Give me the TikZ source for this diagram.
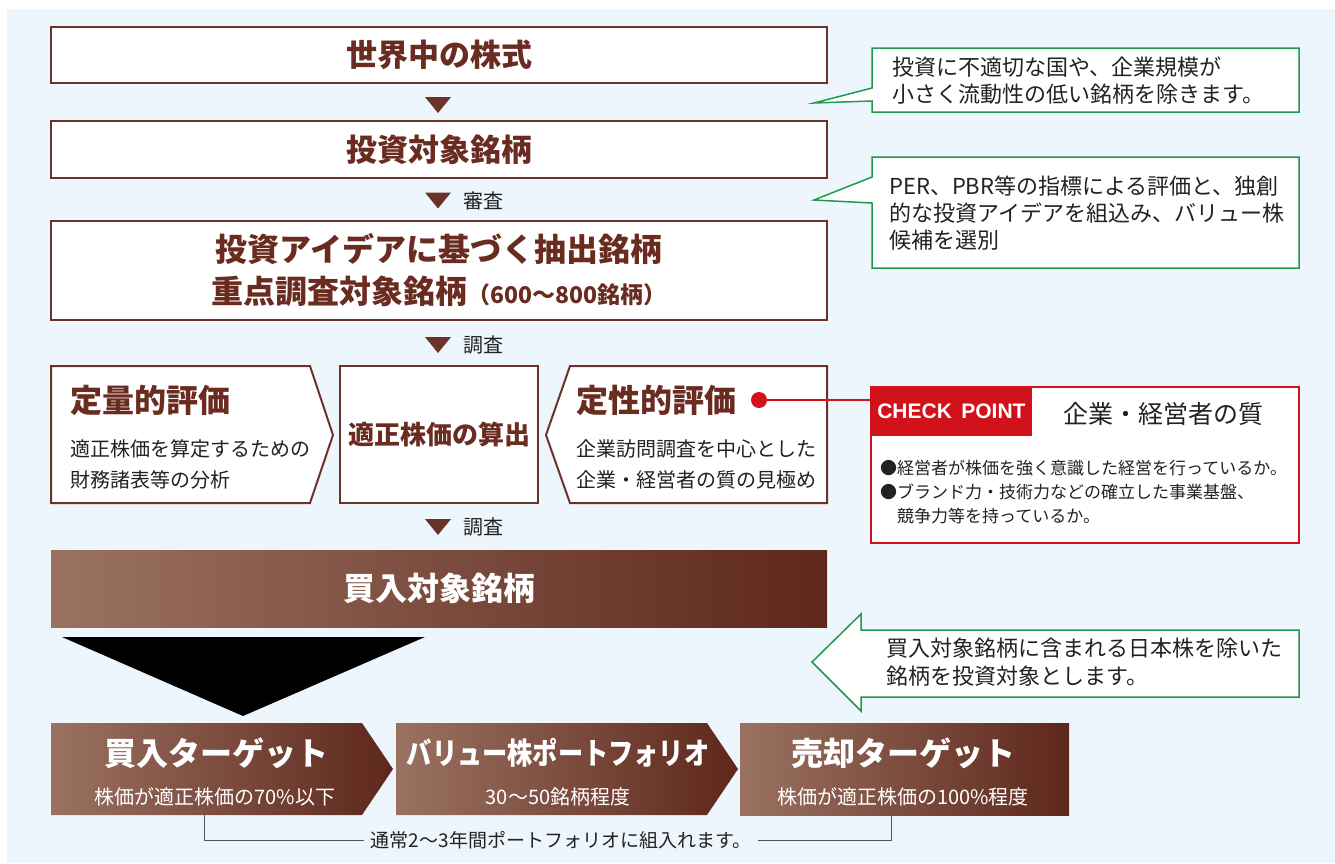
\documentclass[tikz,border=0pt]{standalone}
\usepackage{fontspec}
\setmainfont{Noto Sans CJK JP}
\newfontfamily\checkfont{Liberation Sans}
\usetikzlibrary{positioning}
\definecolor{bgblue}{HTML}{EEF6FD}
\definecolor{framebrown}{HTML}{6B3328}
\definecolor{titlebrown}{HTML}{6A2C20}
\definecolor{gradleft}{HTML}{9A7262}
\definecolor{gradright}{HTML}{5E271B}
\definecolor{calloutgreen}{HTML}{1F9A4A}
\definecolor{checkred}{HTML}{D1121B}
\definecolor{notegray}{HTML}{555555}
\definecolor{bodytext}{HTML}{222222}
\newcommand{\jpsize}[1]{\fontsize{#1}{#1}\selectfont}
\newcommand{\downmark}[2]{\fill[framebrown] (#1-13,#2-8) -- (#1+13,#2-8) -- (#1,#2+8) -- cycle;}

\begin{document}
\begin{tikzpicture}[x=1pt,y=-1pt,
  stagebox/.style={draw=framebrown, line width=2pt, fill=white, text=titlebrown, font=\bfseries\jpsize{31}, inner sep=0pt},
  evalbox/.style={draw=framebrown, line width=2pt, fill=white},
  evaltitle/.style={text=titlebrown, font=\bfseries\jpsize{32}, anchor=west, inner sep=0pt},
  evaltext/.style={text=bodytext, font=\fontsize{20}{31}\selectfont, anchor=west, inner sep=0pt, align=left},
  steplabel/.style={text=bodytext, font=\jpsize{20}, anchor=west, inner sep=0pt},
  shadebox/.style={left color=gradleft, right color=gradright, draw=none},
  whitetitle/.style={text=white, font=\bfseries\jpsize{32}, inner sep=0pt},
  whitetext/.style={text=white, font=\jpsize{20}, inner sep=0pt},
  callout/.style={draw=calloutgreen, line width=1.5pt, fill=white},
  callouttext/.style={text=bodytext, font=\fontsize{22}{27}\selectfont, anchor=west, inner sep=0pt, align=left}]
\useasboundingbox (0,0) rectangle (1335,863);
\fill[bgblue] (7,9) rectangle (1335,863);

\node[stagebox, minimum width=776pt, minimum height=56pt] (world) at (439,55) {世界中の株式};
\downmark{438}{105}
\node[stagebox, minimum width=776pt, minimum height=57pt] (universe) at (439,149.5) {投資対象銘柄};
\downmark{438}{200.5}
\node[steplabel] (screen) at (463,201) {審査};
\node[stagebox, minimum width=776pt, minimum height=99pt, align=center, font=\bfseries\fontsize{32}{42}\selectfont] (focus) at (439,270.5)
  {投資アイデアに基づく抽出銘柄\\重点調査対象銘柄{\jpsize{23}（600～800銘柄）}};
\downmark{438}{345}
\node[steplabel] (research) at (463,345) {調査};

\draw[evalbox] (51,366) -- (310,366) -- (333,435) -- (310,503) -- (51,503) -- cycle;
\node[evalbox, minimum width=198pt, minimum height=137pt, inner sep=0pt, text=titlebrown, font=\bfseries\jpsize{26}] (fair) at (439,434.5) {適正株価の算出};
\draw[evalbox] (570,366) -- (827,366) -- (827,503) -- (570,503) -- (546,435) -- cycle;
\node[evaltitle] (quant) at (70,400) {定量的評価};
\node[evaltext] (quanttext) at (70,464.5) {適正株価を算定するための\\財務諸表等の分析};
\node[evaltitle] (qual) at (576,400) {定性的評価};
\node[evaltext] (qualtext) at (576,464.5) {企業訪問調査を中心とした\\企業・経営者の質の見極め};
\downmark{438}{527}
\node[steplabel] (research2) at (463,527) {調査};

\node[shadebox, minimum width=776pt, minimum height=77pt, inner sep=0pt, text=white, font=\bfseries\jpsize{32}] (buylist) at (439,588.5) {買入対象銘柄};
\fill[black] (62,637) -- (425,637) -- (243,716) -- cycle;

\shade[shadebox] (51,723) -- (362,723) -- (393,769) -- (362,815) -- (51,815) -- cycle;
\shade[shadebox] (396,723) -- (707,723) -- (738,769) -- (707,815) -- (396,815) -- cycle;
\shade[shadebox] (740,723) rectangle (1069,815);
\node[whitetitle] (buytitle) at (216,753) {買入ターゲット};
\node[whitetext] (buytext) at (215,797) {株価が適正株価の70\%以下};
\node[whitetitle, font=\bfseries\jpsize{30}] (pftitle) at (558,753) {\scalebox{0.84}[1]{バリュー株ポートフォリオ}};
\node[whitetext] (pftext) at (558,797) {30～50銘柄程度};
\node[whitetitle] (selltitle) at (903,753) {売却ターゲット};
\node[whitetext] (selltext) at (903,797) {株価が適正株価の100\%程度};

\node[text=bodytext, font=\jpsize{19}, inner sep=7pt] (note) at (561,840) {通常2～3年間ポートフォリオに組入れます。};
\coordinate (buyfoot) at (204,815);
\coordinate (sellfoot) at (891,815);
\draw[notegray, line width=1pt] (buyfoot) |- (note.west);
\draw[notegray, line width=1pt] (note.east) -| (sellfoot);

\draw[callout] (872,48) -- (1299,48) -- (1299,112) -- (872,112) -- (872,101) -- (814,103) -- (872,88) -- cycle;
\node[callouttext] (exclude) at (892,80.5) {投資に不適切な国や、企業規模が\\小さく流動性の低い銘柄を除きます。};
\draw[callout] (872,157) -- (1299,157) -- (1299,268) -- (872,268) -- (872,203) -- (814,200) -- (872,177) -- cycle;
\node[callouttext] (select) at (889,213) {PER、PBR等の指標による評価と、独創\\的な投資アイデアを組込み、バリュー株\\候補を選別};

\node[circle, fill=checkred, minimum size=16pt, inner sep=0pt] (dot) at (759,400) {};
\node[draw=checkred, line width=1.5pt, fill=white, minimum width=428pt, minimum height=156pt, inner sep=0pt] (check) at (1085,465) {};
\draw[checkred, line width=1.5pt] (dot) -- (dot -| check.west);
\node[fill=checkred, text=white, font=\checkfont\bfseries\jpsize{21}, minimum width=162pt, minimum height=50pt, anchor=north west, inner sep=0pt] (checklabel) at (check.north west) {CHECK\hspace{0.45em}POINT};
\node[text=bodytext, font=\jpsize{25}, inner sep=0pt] (checktitle) at (1163,414) {企業・経営者の質};
\node[text=bodytext, font=\fontsize{17}{24}\selectfont, align=left, anchor=west, inner sep=0pt] (checktext) at (880,492)
  {●経営者が株価を強く意識した経営を行っているか。\\●ブランド力・技術力などの確立した事業基盤、\\\hspace{1em}競争力等を持っているか。};

\draw[callout] (1299,630) -- (1299,697) -- (861,697) -- (861,711) -- (812,662) -- (861,614) -- (861,630) -- cycle;
\node[callouttext, font=\fontsize{22}{28}\selectfont] (exjapan) at (886,662) {買入対象銘柄に含まれる日本株を除いた\\銘柄を投資対象とします。};
\end{tikzpicture}
\end{document}
